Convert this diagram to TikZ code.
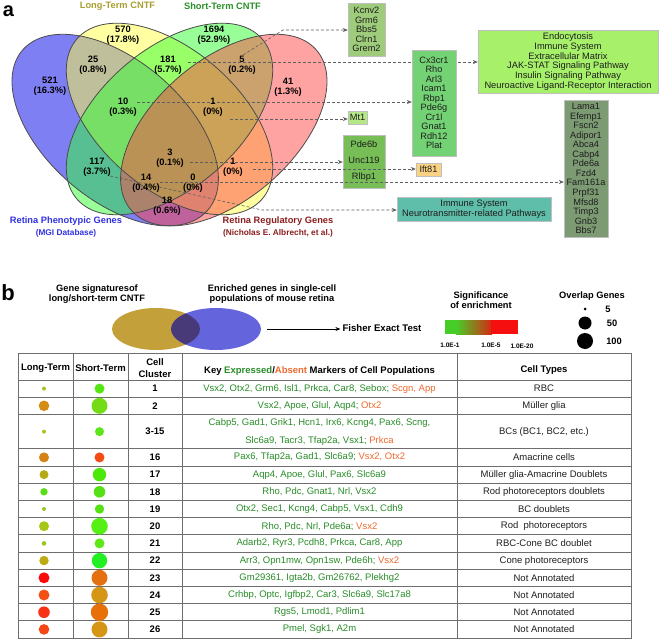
\documentclass[tikz,border=0pt]{standalone}
\usepackage{fontspec}
\setmainfont{Liberation Sans}
\usetikzlibrary{arrows.meta,calc}
\definecolor{vblue}{RGB}{0,0,235}
\definecolor{vyel}{RGB}{255,255,70}
\definecolor{vgrn}{RGB}{50,255,50}
\definecolor{vpink}{RGB}{255,70,70}
\definecolor{vline}{RGB}{75,75,75}
\definecolor{ltcol}{RGB}{168,158,48}
\definecolor{stcol}{RGB}{40,145,40}
\definecolor{phcol}{RGB}{50,50,225}
\definecolor{rgcol}{RGB}{140,30,30}
\definecolor{dashc}{RGB}{95,95,95}
\definecolor{kcfill}{RGB}{158,204,122}
\definecolor{endofill}{RGB}{166,240,106}
\definecolor{cxfill}{RGB}{115,210,115}
\definecolor{mtfill}{RGB}{180,232,135}
\definecolor{pdefill}{RGB}{118,190,85}
\definecolor{iftfill}{RGB}{250,210,130}
\definecolor{immfill}{RGB}{95,190,170}
\definecolor{lamafill}{RGB}{125,155,115}
\definecolor{bolive}{RGB}{196,160,58}
\definecolor{bblue}{RGB}{100,100,220}
\definecolor{bover}{RGB}{72,58,120}
\definecolor{mkgreen}{RGB}{40,140,40}
\definecolor{mkorange}{RGB}{240,105,45}
\definecolor{tline}{RGB}{110,110,110}
\definecolor{ctext}{RGB}{30,30,30}
\newcommand\mkg[1]{\textcolor{mkgreen}{#1}}
\newcommand\mko[1]{\textcolor{mkorange}{#1}}
\newcommand\trow[9]{%
  \fill[fill={#4}] (44,#2) circle (#3);
  \fill[fill={#6}] (99.5,#2) circle (#5);
  \node[tcl] (cl#1) at (155,#2) {#7};
  \node[tmk] (mk#1) at (319.5,#2) {#8};
  \node[tct] (ct#1) at (544,#2) {#9};
}
\begin{document}
\begin{tikzpicture}[x=1pt,y=-1pt,
  vlab/.style={font=\fontsize{9.3}{10}\selectfont\bfseries, align=center, inner sep=0},
  ttl/.style={font=\fontsize{9.3}{11}\selectfont\bfseries, inner sep=0},
  sttl/.style={font=\fontsize{8.3}{10}\selectfont\bfseries, inner sep=0},
  gbox/.style={draw=black!25, line width=0.4pt, font=\fontsize{9.2}{9.6}\selectfont, text=ctext, align=center, inner sep=0},
  dashar/.style={draw=dashc, line width=0.6pt, dash pattern=on 3pt off 2pt, -{Stealth[length=5pt,width=4pt]}},
  hb/.style={font=\fontsize{9.3}{9.5}\selectfont\bfseries, align=center, inner sep=0},
  tcl/.style={font=\fontsize{9.5}{11}\selectfont\bfseries, inner sep=0},
  tmk/.style={font=\fontsize{9.5}{18}\selectfont, text=mkgreen, align=center, inner sep=0},
  tct/.style={font=\fontsize{9.5}{11}\selectfont, text=ctext, inner sep=0},
  th/.style={font=\fontsize{9.5}{11}\selectfont\bfseries, align=center, inner sep=0}
]
\useasboundingbox (0,0) rectangle (660,639);
\fill[white] (0,0) rectangle (660,639);

% ---------- panel a : Venn ----------
\begin{scope}[cm={362,0,0,336,(169.5,288)}, x={(1pt,0)}, y={(0,1pt)}]
  \fill[vblue, fill opacity=0.5, rotate around={-45:(-0.15,0.47)}] (-0.15,0.47) ellipse [x radius=0.35, y radius=0.2];
  \fill[vyel, fill opacity=0.5, rotate around={-45:(0,0.503)}] (0,0.503) ellipse [x radius=0.35, y radius=0.2];
  \fill[vgrn, fill opacity=0.5, rotate around={45:(0,0.503)}] (0,0.503) ellipse [x radius=0.35, y radius=0.2];
  \fill[vpink, fill opacity=0.5, rotate around={45:(0.15,0.47)}] (0.15,0.47) ellipse [x radius=0.35, y radius=0.2];
  \draw[vline, line width=0.8pt, rotate around={-45:(-0.15,0.47)}] (-0.15,0.47) ellipse [x radius=0.35, y radius=0.2];
  \draw[vline, line width=0.8pt, rotate around={-45:(0,0.503)}] (0,0.503) ellipse [x radius=0.35, y radius=0.2];
  \draw[vline, line width=0.8pt, rotate around={45:(0,0.503)}] (0,0.503) ellipse [x radius=0.35, y radius=0.2];
  \draw[vline, line width=0.8pt, rotate around={45:(0.15,0.47)}] (0.15,0.47) ellipse [x radius=0.35, y radius=0.2];
\end{scope}

\node[font=\fontsize{20}{20}\selectfont\bfseries, inner sep=0] (pa) at (8.5,11) {a};
\node[ttl, text=ltcol] (tlt) at (117.5,6) {Long-Term CNTF};
\node[ttl, text=stcol] (tst) at (222.5,6) {Short-Term CNTF};
\node[ttl, text=phcol] (tph) at (66,221) {Retina Phenotypic Genes};
\node[sttl, text=phcol] (tph2) at (66,233) {(MGI Database)};
\node[ttl, text=rgcol] (trg) at (278,221) {Retina Regulatory Genes};
\node[sttl, text=rgcol] (trg2) at (278,233) {(Nicholas E. Albrecht, et al.)};

% arrow start coordinates
\coordinate (s5) at (243,55);
\coordinate (k5) at (283,30);
\coordinate (s181) at (188,62);
\coordinate (s10) at (137,102);
\coordinate (s1a) at (230,119);
\coordinate (s3) at (190,162);
\coordinate (s1b) at (253,169);
\coordinate (s14) at (160,182);
\coordinate (s117) at (110,176);
\coordinate (k117) at (262,210);

% boxes
\path (366.5,29.5) node[gbox, fill=kcfill, minimum width=37, minimum height=53] (kc) {Kcnv2\\Grm6\\Bbs5\\Clrn1\\Grem2};
\path (568,61.5) node[gbox, fill=endofill, minimum width=180, minimum height=63, font=\fontsize{9.3}{9.7}\selectfont] (endo) {Endocytosis\\Immune System\\Extracellular Matrix\\JAK-STAT Signaling Pathway\\Insulin Signaling Pathway\\Neuroactive Ligand-Receptor Interaction};

% dashed connectors
\draw[dashar] (s181) -- (s181 -| endo.west);
\draw[dashar] (s5) -- (k5) -- (k5 -| kc.west);

\node[gbox, fill=cxfill, minimum width=44, minimum height=106, font=\fontsize{9.2}{9.5}\selectfont] (cx) at (434,103) {Cx3cr1\\Rho\\Arl3\\Icam1\\Rbp1\\Pde6g\\Cr1l\\Gnat1\\Rdh12\\Plat};
\node[gbox, fill=mtfill, minimum width=19, minimum height=13] (mt) at (357.5,117.5) {Mt1};
\node[gbox, fill=pdefill, minimum width=42, minimum height=53, font=\fontsize{9.2}{16}\selectfont] (pde) at (364,161.5) {Pde6b\\Unc119\\Rlbp1};
\node[gbox, fill=iftfill, minimum width=25, minimum height=13] (ift) at (428.5,169.5) {Ift81};
\node[gbox, fill=immfill, minimum width=154, minimum height=24, font=\fontsize{9.3}{10}\selectfont] (imm) at (474,209) {Immune System\\Neurotransmitter-related Pathways};
\node[gbox, fill=lamafill, minimum width=44, minimum height=137, font=\fontsize{9.2}{9.55}\selectfont] (lama) at (586,168.5) {Lama1\\Efemp1\\Fscn2\\Adipor1\\Abca4\\Cabp4\\Pde6a\\Fzd4\\Fam161a\\Prpf31\\Mfsd8\\Timp3\\Gnb3\\Bbs7};

\draw[dashar] (s10) -- (s10 -| cx.west);
\draw[dashar] (s1a) -- (s1a -| mt.west);
\draw[dashar] (s3) -- (s3 -| pde.west);
\draw[dashar] (s1b) -- (s1b -| ift.west);
\draw[dashar] (s14) -- (s14 -| lama.west);
\draw[dashar] (s117) -- (k117) -- (k117 -| imm.west);

% Venn labels
\node[vlab] (n521) at (50,86) {521\\(16.3\%)};
\node[vlab] (n570) at (123,35) {570\\(17.8\%)};
\node[vlab] (n1694) at (214,35) {1694\\(52.9\%)};
\node[vlab] (n41) at (288,87) {41\\(1.3\%)};
\node[vlab] (n25) at (93,65) {25\\(0.8\%)};
\node[vlab] (n181) at (168,65) {181\\(5.7\%)};
\node[vlab] (n5) at (242,65) {5\\(0.2\%)};
\node[vlab] (n10) at (123,107) {10\\(0.3\%)};
\node[vlab] (n1a) at (213,107) {1\\(0\%)};
\node[vlab] (n3) at (170,158) {3\\(0.1\%)};
\node[vlab] (n117) at (97,167) {117\\(3.7\%)};
\node[vlab] (n14) at (146,183) {14\\(0.4\%)};
\node[vlab] (n0) at (193,183) {0\\(0\%)};
\node[vlab] (n18) at (167,206) {18\\(0.6\%)};
\node[vlab] (n1b) at (233,167) {1\\(0\%)};

% ---------- panel b ----------
\node[font=\fontsize{22}{22}\selectfont\bfseries, inner sep=0] (pb) at (8,293) {b};
\node[hb] (gs) at (97,294) {Gene signaturesof\\long/short-term CNTF};
\node[hb] (eg) at (272,294) {Enriched genes in single-cell\\populations of mouse retina};
\fill[bolive] (156,329) ellipse [x radius=44, y radius=21];
\fill[bblue] (216,329) ellipse [x radius=45, y radius=21];
\begin{scope}
  \clip (156,329) ellipse [x radius=44, y radius=21];
  \fill[bover] (216,329) ellipse [x radius=45, y radius=21];
\end{scope}
\coordinate (bvr) at (267,329);
\node[hb, font=\fontsize{9.6}{11}\selectfont\bfseries, inner sep=2pt] (fet) at (382,328) {Fisher Exact Test};
\draw[line width=0.8pt, -{Stealth[length=5pt,width=4pt]}] (bvr) -- (bvr -| fet.west);

\node[hb] (sig) at (481,300) {Significance\\of enrichment};
\fill[fill={rgb,255:red,70;green,205;blue,40}] (445,320) rectangle (457,334);
\shade[left color={rgb,255:red,70;green,205;blue,40}, right color={rgb,255:red,215;green,40;blue,20}] (456,320) rectangle (492,334);
\fill[fill={rgb,255:red,245;green,15;blue,15}] (491,320) rectangle (518,334);
\node[font=\fontsize{6.5}{7}\selectfont\bfseries, inner sep=0] (e1) at (450,345) {1.0E-1};
\node[font=\fontsize{6.5}{7}\selectfont\bfseries, inner sep=0] (e5) at (491,345) {1.0E-5};
\node[font=\fontsize{6.5}{7}\selectfont\bfseries, inner sep=0] (e20) at (522,346) {1.0E-20};

\node[hb] (og) at (592,296) {Overlap Genes};
\fill (585,309) circle (1.5);
\fill (585,323) circle (6.5);
\fill (585,341) circle (8);
\node[hb] (o5) at (608,309) {5};
\node[hb] (o50) at (612,323) {50};
\node[hb] (o100) at (614,341) {100};

% table grid
\draw[tline, line width=0.8pt] (18,353) rectangle (631,638);
\foreach \xx in {73,128,182,457} \draw[tline, line width=0.8pt] (\xx,353) -- (\xx,638);
\foreach \yy in {380,397.2,414.4,448.8,466,483.2,500.4,517.6,534.8,552,569.2,586.4,603.6,620.8}
  \draw[tline, line width=0.8pt] (18,\yy) -- (631,\yy);

\node[th] (hlt) at (45.5,368) {Long-Term};
\node[th] (hst) at (100.5,368) {Short-Term};
\node[th, font=\fontsize{9.5}{11.5}\selectfont\bfseries] (hcc) at (155,368) {Cell\\Cluster};
\node[th] (hkm) at (319.5,371) {Key \textcolor{mkgreen}{Expressed}/\textcolor{mkorange}{Absent} Markers of Cell Populations};
\node[th] (hct) at (544,370) {Cell Types};

\trow{1}{388.6}{2}{rgb,255:red,170;green,195;blue,30}{5}{rgb,255:red,85;green,230;blue,20}{1}{Vsx2, Otx2, Grm6, Isl1, Prkca, Car8, Sebox; \mko{Scgn, App}}{RBC}
\trow{2}{405.8}{5.3}{rgb,255:red,212;green,140;blue,20}{8}{rgb,255:red,115;green,220;blue,20}{2}{Vsx2, Apoe, Glul, Aqp4; \mko{Otx2}}{Müller glia}
\trow{3}{431.6}{2}{rgb,255:red,170;green,195;blue,30}{4.5}{rgb,255:red,90;green,230;blue,25}{3-15}{Cabp5, Gad1, Grik1, Hcn1, Irx6, Kcng4, Pax6, Scng,\\Slc6a9, Tacr3, Tfap2a, Vsx1; \mko{Prkca}}{BCs (BC1, BC2, etc.)}
\trow{16}{457.4}{5}{rgb,255:red,215;green,130;blue,20}{5}{rgb,255:red,242;green,75;blue,20}{16}{Pax6, Tfap2a, Gad1, Slc6a9; \mko{Vsx2, Otx2}}{Amacrine cells}
\trow{17}{474.6}{4.5}{rgb,255:red,180;green,170;blue,20}{6.7}{rgb,255:red,75;green,232;blue,10}{17}{Aqp4, Apoe, Glul, Pax6, Slc6a9}{Müller glia-Amacrine Doublets}
\trow{18}{491.8}{3.7}{rgb,255:red,90;green,222;blue,20}{5.8}{rgb,255:red,85;green,225;blue,20}{18}{Rho, Pdc, Gnat1, Nrl, Vsx2}{Rod photoreceptors doublets}
\trow{19}{509}{2}{rgb,255:red,150;green,200;blue,30}{4.7}{rgb,255:red,85;green,225;blue,20}{19}{Otx2, Sec1, Kcng4, Cabp5, Vsx1, Cdh9}{BC doublets}
\trow{20}{526.2}{5}{rgb,255:red,165;green,200;blue,20}{8.3}{rgb,255:red,85;green,240;blue,20}{20}{Rho, Pdc, Nrl, Pde6a; \mko{Vsx2}}{Rod \ photoreceptors}
\trow{21}{543.4}{2.3}{rgb,255:red,150;green,200;blue,30}{5}{rgb,255:red,95;green,230;blue,25}{21}{Adarb2, Ryr3, Pcdh8, Prkca, Car8, App}{RBC-Cone BC doublet}
\trow{22}{560.6}{4.7}{rgb,255:red,190;green,170;blue,20}{7.7}{rgb,255:red,35;green,240;blue,35}{22}{Arr3, Opn1mw, Opn1sw, Pde6h; \mko{Vsx2}}{Cone photoreceptors}
\trow{23}{577.8}{5.5}{rgb,255:red,250;green,10;blue,10}{8}{rgb,255:red,228;green,112;blue,18}{23}{Gm29361, Igta2b, Gm26762, Plekhg2}{Not Annotated}
\trow{24}{595}{5.5}{rgb,255:red,242;green,80;blue,20}{8.3}{rgb,255:red,212;green,150;blue,20}{24}{Crhbp, Optc, Igfbp2, Car3, Slc6a9, Slc17a8}{Not Annotated}
\trow{25}{612.2}{5.8}{rgb,255:red,248;green,50;blue,20}{8.7}{rgb,255:red,230;green,112;blue,10}{25}{Rgs5, Lmod1, Pdlim1}{Not Annotated}
\trow{26}{629.4}{5.3}{rgb,255:red,245;green,72;blue,20}{8}{rgb,255:red,212;green,150;blue,20}{26}{Pmel, Sgk1, A2m}{Not Annotated}
\end{tikzpicture}
\end{document}
